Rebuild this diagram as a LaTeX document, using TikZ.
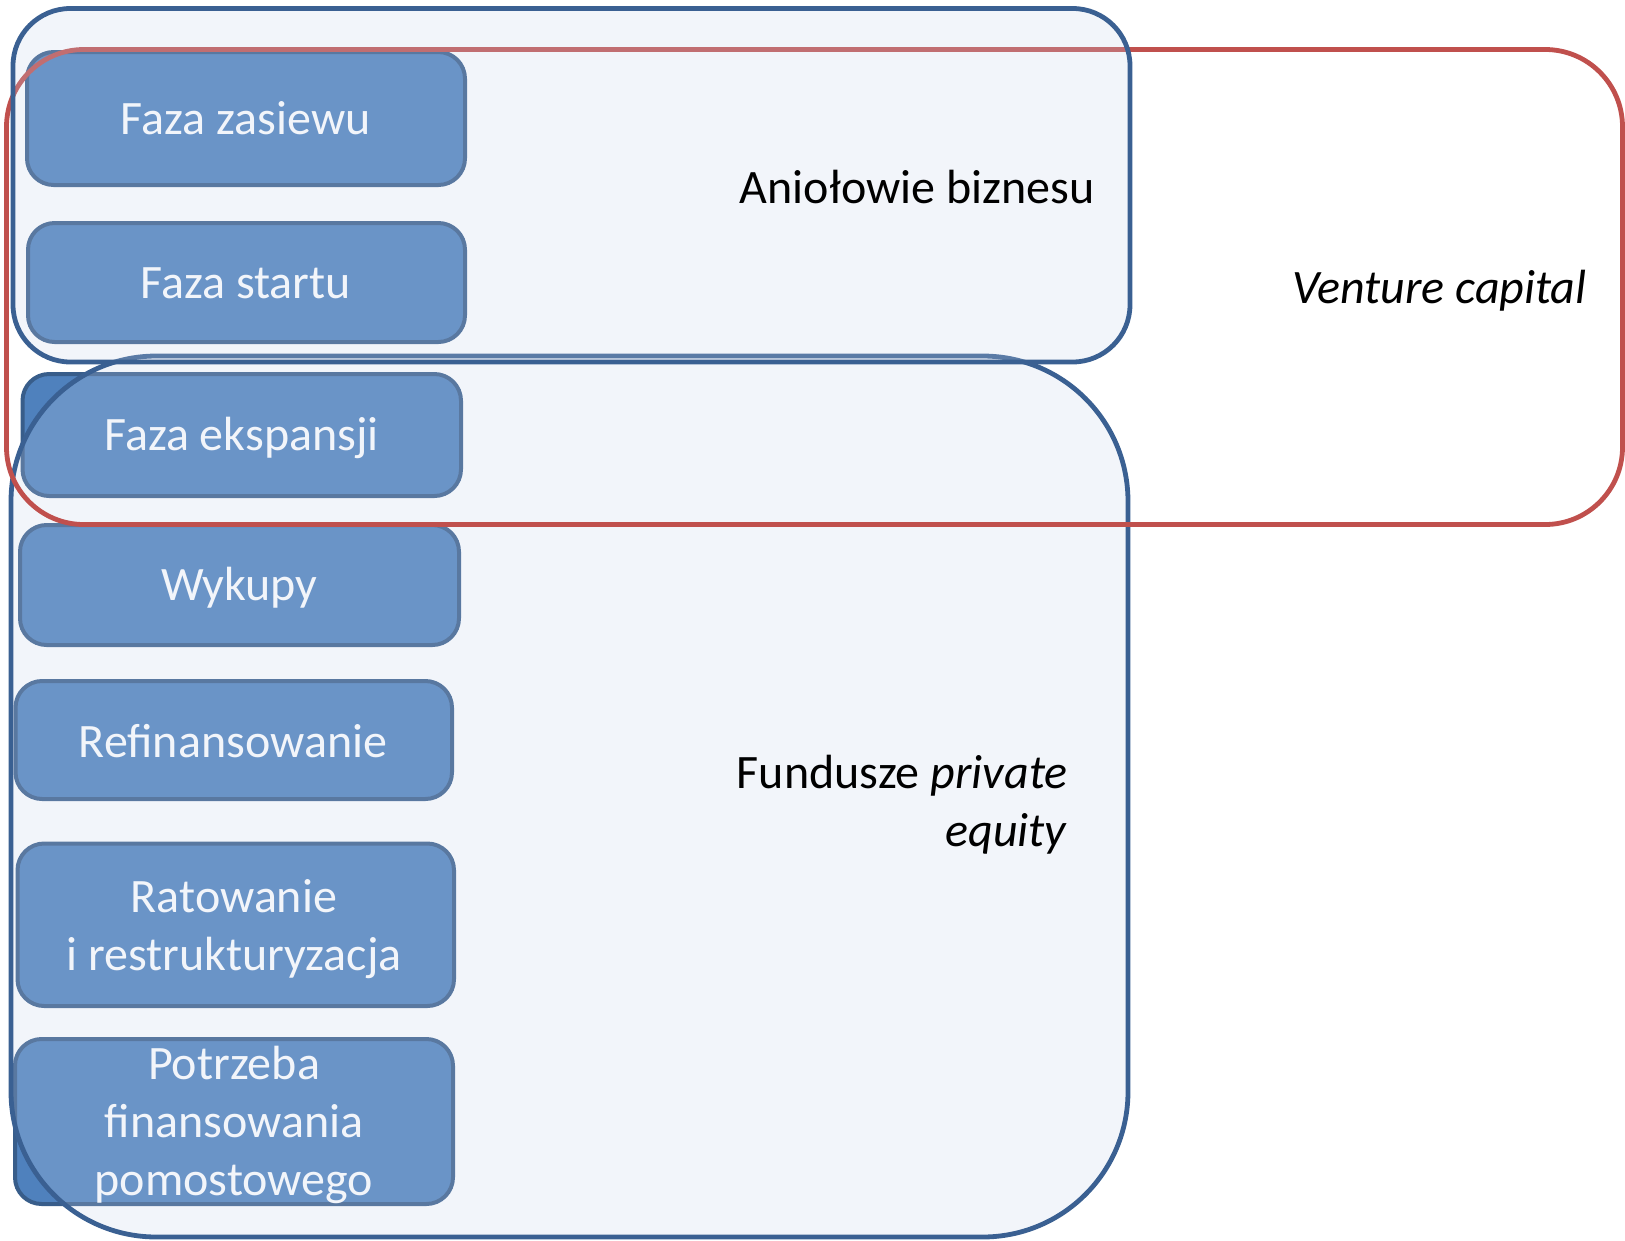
\documentclass[tikz,border=0pt]{standalone}
\usepackage{fontspec}
\setmainfont{Carlito}

\definecolor{phasefill}{RGB}{79,129,189}
\definecolor{phaseline}{RGB}{56,93,138}
\definecolor{groupline}{RGB}{58,96,146}
\definecolor{groupfill}{RGB}{200,213,235}
\definecolor{vcred}{RGB}{192,80,77}

\tikzset{every picture/.style={line width=0.75pt}}
\tikzset{
  phase/.style={draw=phaseline, fill=phasefill, line width=3pt, rounded corners=20pt},
  phasetext/.style={text=white, inner sep=0.75pt, font=\fontsize{36}{43.5}\selectfont},
  group/.style={draw=groupline, fill=groupfill, fill opacity=0.23, line width=3.6pt},
  grouptext/.style={inner sep=0.75pt, font=\fontsize{36}{43.5}\selectfont},
}

\begin{document}
\begin{tikzpicture}[x=0.75pt,y=0.75pt,yscale=-1,xscale=1]
\useasboundingbox (0,0) rectangle (1625,1240);

%Rounded Rect [phase 1]
\draw [phase] (27,52) rectangle (465,185) ;
%Rounded Rect [phase 2]
\draw [phase] (28,223) rectangle (465,342) ;
%Rounded Rect [phase 3]
\draw [phase] (22.5,374) rectangle (461,496) ;
%Rounded Rect [phase 4]
\draw [phase] (20,525) rectangle (459,645) ;
%Rounded Rect [phase 5]
\draw [phase] (15.5,681) rectangle (452,799) ;
%Rounded Rect [phase 6]
\draw [phase] (17.5,843.5) rectangle (454,1006) ;
%Rounded Rect [phase 7]
\draw [phase] (15,1039) rectangle (453,1204) ;

% Text Node
\draw (245.6,134) node (zasiew) [phasetext, anchor=base] {Faza zasiewu};
% Text Node
\draw (245.6,298) node (start) [phasetext, anchor=base] {Faza startu};
% Text Node
\draw (241.5,450) node (ekspansja) [phasetext, anchor=base] {Faza ekspansji};
% Text Node
\draw (239.4,600) node (wykupy) [phasetext, anchor=base] {Wykupy};
% Text Node
\draw (233,757) node (refin) [phasetext, anchor=base] {Refinansowanie};
% Text Node
\draw (234,929.5) node (ratowanie) [phasetext, align=center] {Ratowanie\\i restrukturyzacja};
% Text Node
\draw (234,1125) node (pomost) [phasetext, align=center] {Potrzeba\\finansowania\\pomostowego};

%Rounded Rect [private equity]
\draw [group, rounded corners=109pt] (11,356) rectangle (1128,1237) ;
%Rounded Rect [venture capital]
\draw [draw=vcred, line width=3.6pt, rounded corners=58pt] (6.5,49.5) rectangle (1622.5,524.5) ;
%Rounded Rect [business angels]
\draw [group, rounded corners=43pt] (13,8.5) rectangle (1130,362) ;

% Text Node
\draw (1096,203) node (aniolowie) [grouptext, anchor=base east] {Aniołowie biznesu};
% Text Node
\draw (1439.5,303) node (venture) [grouptext, anchor=base] {\itshape Venture capital};
% Text Node
\draw (1069,804.5) node (fundusze) [grouptext, anchor=east, align=right] {Fundusze \textit{private}\\\textit{equity}};

\end{tikzpicture}
\end{document}
